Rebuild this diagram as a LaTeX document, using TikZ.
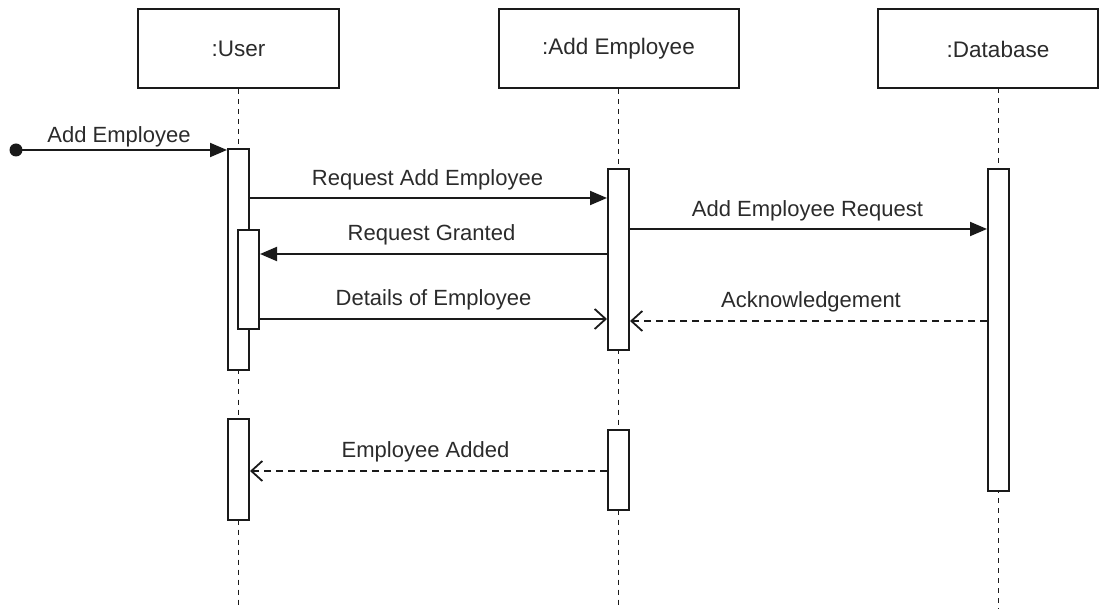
\documentclass[tikz,border=0pt]{standalone}
\usepackage{fontspec}
\setmainfont{Liberation Sans}
\usetikzlibrary{arrows.meta}
\definecolor{txt}{HTML}{2B2B2B}
\definecolor{ln}{HTML}{1A1A1A}
\tikzset{
  head/.style={draw=ln, line width=2pt, fill=white, minimum width=201pt, minimum height=79pt, inner sep=0pt, text=txt, font=\fontsize{22.5}{27}\selectfont},
  act/.style={draw=ln, line width=2pt, fill=white, minimum width=21pt, inner sep=0pt},
  life/.style={draw=ln, line width=1.6pt, dash pattern=on 5pt off 5pt},
  sync/.style={draw=ln, line width=2pt, -{Triangle[length=17pt,width=14pt]}},
  reply/.style={draw=ln, line width=1.8pt, dash pattern=on 7pt off 5pt, -{Straight Barb[length=11pt,width=20pt,line width=1.8pt]}},
  openmsg/.style={draw=ln, line width=2pt, -{Straight Barb[length=11pt,width=20pt,line width=1.8pt]}},
  lbl/.style={text=txt, inner sep=0pt, font=\fontsize{22}{26}\selectfont}
}
\begin{document}
\begin{tikzpicture}[x=1pt,y=-1pt]
\useasboundingbox (0,0) rectangle (1108,609);
% headers
\node[head] (U) at (238.5,49) {:User};
\node[head, minimum width=240pt] (E) at (618.5,49) {:Add Employee};
\node[head, minimum width=220pt] (D) at (988,49) {\hspace*{20pt}:Database};
% lifelines
\coordinate (Ubot) at (238.5,609);
\coordinate (Ebot) at (618.5,609);
\coordinate (Dtop) at (998.5,88);
\coordinate (Dbot) at (998.5,609);
\draw[life] (U.south) -- (Ubot);
\draw[life] (E.south) -- (Ebot);
\draw[life] (Dtop) -- (Dbot);
% activations
\node[act, minimum height=221pt] (A1) at (238.5,259.5) {};
\node[act, minimum height=99pt] (A2) at (248.5,279.5) {};
\node[act, minimum height=101pt] (A3) at (238.5,469.5) {};
\node[act, minimum height=181pt] (B1) at (618.5,259.5) {};
\node[act, minimum height=80pt] (B2) at (618.5,470) {};
\node[act, minimum height=322pt] (C1) at (998.5,330) {};
% found message
\coordinate (start) at (16,150);
\fill[ln] (start) circle (6.5pt);
\draw[sync] (start) -- (A1.west |- start);
\node[lbl] (l0) at (119,137) {Add Employee};
% messages
\coordinate (y1) at (0,198);
\draw[sync] (A1.east |- y1) -- (B1.west |- y1);
\node[lbl] (l1) at (427.5,180) {Request Add Employee};
\coordinate (y2) at (0,229);
\draw[sync] (B1.east |- y2) -- (C1.west |- y2);
\node[lbl] (l2) at (807.5,211) {Add Employee Request};
\coordinate (y3) at (0,254);
\draw[sync] (B1.west |- y3) -- (A2.east |- y3);
\node[lbl] (l3) at (431.5,235) {Request Granted};
\coordinate (y4) at (0,319);
\draw[openmsg] (A2.east |- y4) -- (B1.west |- y4);
\node[lbl] (l4) at (433.5,300) {Details of Employee};
\coordinate (y5) at (0,321);
\draw[reply] (C1.west |- y5) -- (B1.east |- y5);
\node[lbl] (l5) at (811,302) {Acknowledgement};
\coordinate (y6) at (0,471);
\draw[reply] (B2.west |- y6) -- (A3.east |- y6);
\node[lbl] (l6) at (425.5,452) {Employee Added};
\end{tikzpicture}
\end{document}
